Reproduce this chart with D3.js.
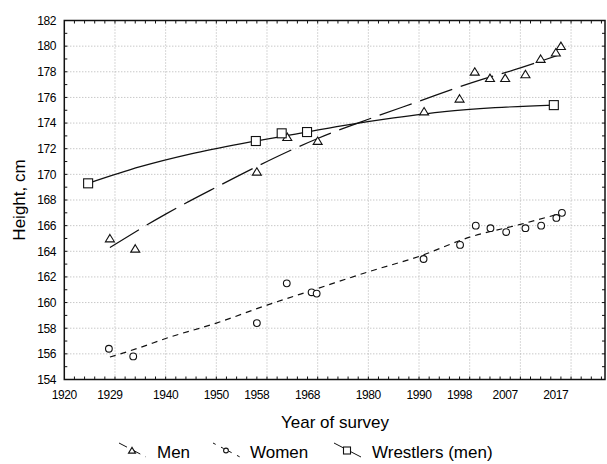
<!DOCTYPE html>
<html>
<head>
<meta charset="utf-8">
<script src="https://cdn.jsdelivr.net/npm/d3@7"></script>
<style>
  body { margin: 0; background: #fff; }
  svg { display: block; font-family: "Liberation Sans", Arial, sans-serif; }
  .grid line { stroke: #b0b0b0; stroke-dasharray: 1,2; stroke-width: 1; }
  .tick-lbl { font-size: 12px; fill: #000; letter-spacing: -0.4px; }
  .title { font-size: 17px; fill: #000; }
</style>
</head>
<body>
<svg id="chart" width="607" height="464"></svg>
<script>
// ---- data ----
const menYears   = [1929, 1934, 1958, 1964, 1970, 1991, 1998, 2001, 2004, 2007, 2011, 2014, 2017, 2018];
const menHeights = [165.0, 164.2, 170.2, 172.9, 172.6, 174.9, 175.9, 178.0, 177.5, 177.5, 177.8, 179.0, 179.5, 180.0];

const womenYears   = [1928.8, 1933.6, 1958, 1963.9, 1968.8, 1969.8, 1990.9, 1998.1, 2001.2, 2004.1, 2007.2, 2011, 2014.1, 2017.1, 2018.2];
const womenHeights = [156.4, 155.8, 158.4, 161.5, 160.8, 160.7, 163.4, 164.5, 166.0, 165.8, 165.5, 165.8, 166.0, 166.6, 167.0];

const wrestlerYears   = [1924.7, 1957.8, 1962.9, 1967.9, 2016.6];
const wrestlerHeights = [169.3, 172.6, 173.2, 173.3, 175.4];

// fitted trend curves
const menFitYears = [1929, 1940, 1950, 1960, 1970, 1980, 1990, 2000, 2010, 2017.5];
const menFitVals  = [164.3, 166.9, 169.0, 171.0, 172.8, 174.3, 175.7, 177.1, 178.3, 179.3];

const womenFitYears = [1929, 1935, 1940, 1950, 1960, 1970, 1980, 1990, 2000, 2010, 2017.5];
const womenFitVals  = [155.75, 156.5, 157.2, 158.4, 159.8, 161.1, 162.4, 163.6, 165.1, 166.1, 166.9];

const wrestlerFitYears = [1924.7, 1935, 1945, 1955, 1965, 1975, 1985, 1995, 2005, 2016.6];
const wrestlerFitVals  = [169.3, 170.6, 171.6, 172.4, 173.1, 173.8, 174.4, 174.9, 175.2, 175.4];

const xTickLabels = [1920, 1929, 1940, 1950, 1958, 1968, 1980, 1990, 1998, 2007, 2017];
const xGridYears  = [1930, 1940, 1950, 1960, 1970, 1980, 1990, 2000, 2010, 2020];
const yTickLabels = [154, 156, 158, 160, 162, 164, 166, 168, 170, 172, 174, 176, 178, 180, 182];

const seriesNames = ['Men', 'Women', 'Wrestlers (men)'];

// ---- layout ----
const L = 64.3, R = 605, T = 20.5, B = 379.5;
const svg = d3.select('#chart');

const x = d3.scaleLinear().domain([1920, 2026.7]).range([L, R]);
const y = d3.scaleLinear().domain([154, 182]).range([B, T]);

// grid
const grid = svg.append('g').attr('class', 'grid');
grid.selectAll('line.gx').data(xGridYears).join('line')
  .attr('x1', d => x(d)).attr('x2', d => x(d)).attr('y1', T).attr('y2', B);
grid.selectAll('line.gy').data(yTickLabels.slice(1, -1)).join('line')
  .attr('x1', L).attr('x2', R).attr('y1', d => y(d)).attr('y2', d => y(d));

// minor ticks (inward, all four sides)
const xMinor = d3.range(1922, 2027, 2);
const yMinor = d3.range(155, 182, 1);
const ticks = svg.append('g').attr('stroke', '#111').attr('stroke-width', 1);
xMinor.forEach(v => {
  ticks.append('line').attr('x1', x(v)).attr('x2', x(v)).attr('y1', B).attr('y2', B - 3);
  ticks.append('line').attr('x1', x(v)).attr('x2', x(v)).attr('y1', T).attr('y2', T + 3);
});
yMinor.forEach(v => {
  ticks.append('line').attr('x1', L).attr('x2', L + 3).attr('y1', y(v)).attr('y2', y(v));
  ticks.append('line').attr('x1', R).attr('x2', R - 3).attr('y1', y(v)).attr('y2', y(v));
});

// frame
svg.append('rect').attr('x', L).attr('y', T).attr('width', R - L).attr('height', B - T)
  .attr('fill', 'none').attr('stroke', '#111').attr('stroke-width', 1.5);

// tick labels
svg.selectAll('text.xl').data(xTickLabels).join('text')
  .attr('class', 'tick-lbl').attr('x', d => x(d)).attr('y', 399)
  .attr('text-anchor', 'middle').text(d => d);
svg.selectAll('text.yl').data(yTickLabels).join('text')
  .attr('class', 'tick-lbl').attr('x', 56).attr('y', d => y(d) + 4.3)
  .attr('text-anchor', 'end').text(d => d);

// axis titles
svg.append('text').attr('class', 'title').attr('x', 335).attr('y', 428)
  .attr('text-anchor', 'middle').text('Year of survey');
svg.append('text').attr('class', 'title')
  .attr('transform', `translate(25,200) rotate(-90)`)
  .attr('text-anchor', 'middle').text('Height, cm');

// fit lines
const line = d3.line().x(d => x(d[0])).y(d => y(d[1])).curve(d3.curveMonotoneX);
const plot = svg.append('g');
const dashes = ['34,9', '6,5', null];
const fits = [
  d3.zip(menFitYears, menFitVals),
  d3.zip(womenFitYears, womenFitVals),
  d3.zip(wrestlerFitYears, wrestlerFitVals)
];
fits.forEach((pts, i) => {
  plot.append('path').attr('d', line(pts)).attr('fill', 'none')
    .attr('stroke', '#111').attr('stroke-width', 1.2)
    .attr('stroke-dasharray', dashes[i]);
});

// markers
function marker(g, kind, cx, cy, s) {
  if (kind === 0) {
    g.append('path')
      .attr('d', `M${cx},${cy - s * 0.9}L${cx + s},${cy + s * 0.75}L${cx - s},${cy + s * 0.75}Z`)
      .attr('fill', '#fff').attr('stroke', '#111').attr('stroke-width', 1.1);
  } else if (kind === 1) {
    g.append('circle').attr('cx', cx).attr('cy', cy).attr('r', s * 0.8)
      .attr('fill', '#fff').attr('stroke', '#111').attr('stroke-width', 1.1);
  } else {
    g.append('rect').attr('x', cx - s).attr('y', cy - s).attr('width', 2 * s).attr('height', 2 * s)
      .attr('fill', '#fff').attr('stroke', '#111').attr('stroke-width', 1.1);
  }
}
const pointSets = [
  d3.zip(menYears, menHeights),
  d3.zip(womenYears, womenHeights),
  d3.zip(wrestlerYears, wrestlerHeights)
];
pointSets.forEach((pts, i) => {
  pts.forEach(p => marker(plot, i, x(p[0]), y(p[1]), i === 1 ? 4.2 : 4.5));
});

// legend
const legX = [119, 213, 334];
const legTextX = [157, 250, 372];
const leg = svg.append('g');
seriesNames.forEach((name, i) => {
  const x0 = legX[i];
  leg.append('line').attr('x1', x0).attr('y1', 443).attr('x2', x0 + 27).attr('y2', 457)
    .attr('stroke', '#111').attr('stroke-width', 1)
    .attr('stroke-dasharray', i === 0 ? '9,6' : i === 1 ? '3,6' : null);
  marker(leg, i, x0 + 13, 450.5, i === 1 ? 3 : 3.5);
  leg.append('text').attr('class', 'title').attr('x', legTextX[i]).attr('y', 458).text(name);
});
</script>
</body>
</html>
